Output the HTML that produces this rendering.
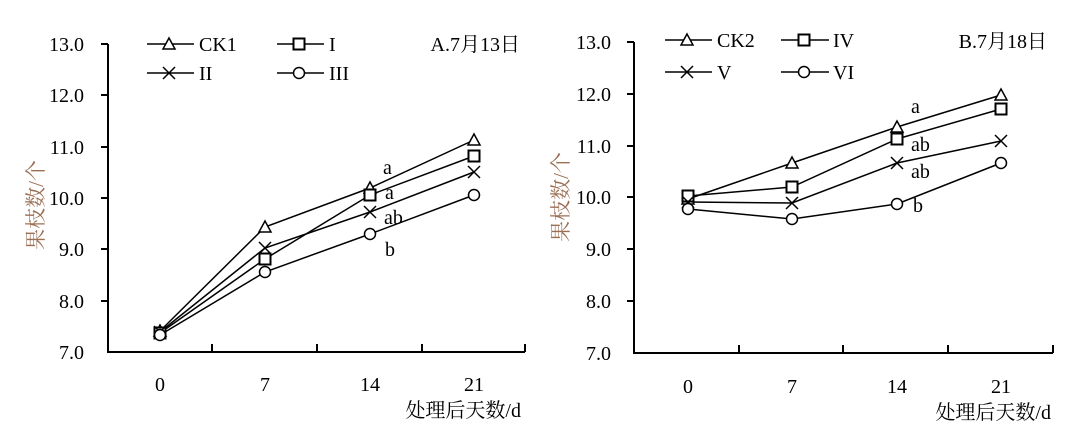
<!DOCTYPE html>
<html><head><meta charset="utf-8"><style>
html,body{margin:0;padding:0;background:#fff}
svg{display:block}
text{font-family:"Liberation Serif","Noto Serif CJK SC",serif;fill:#000}
.t{font-size:20px}
.cn{font-family:"Liberation Serif","Noto Serif CJK SC","Noto Sans CJK SC",serif}
</style></head><body>
<svg width="1090" height="430" viewBox="0 0 1090 430" xmlns="http://www.w3.org/2000/svg">
<defs>
<g id="tri"><path d="M0,-6 L6,5 L-6,5 Z" fill="#fff" stroke="#000" stroke-width="1.5"/></g>
<g id="sq"><rect x="-5.5" y="-5.5" width="11" height="11" fill="#fff" stroke="#000" stroke-width="2"/></g>
<g id="x"><path d="M-6,-6 L6,6 M-6,6 L6,-6" stroke="#000" stroke-width="1.5"/></g>
<g id="ci"><circle r="5.5" fill="#fff" stroke="#000" stroke-width="1.5"/></g>
</defs>

<!-- LEFT CHART -->
<g>
<path d="M108,44 V352 H525" fill="none" stroke="#000" stroke-width="2"/>
<g stroke="#000" stroke-width="2">
<line x1="101" y1="44" x2="108" y2="44"/><line x1="101" y1="95" x2="108" y2="95"/><line x1="101" y1="147" x2="108" y2="147"/><line x1="101" y1="198" x2="108" y2="198"/><line x1="101" y1="249" x2="108" y2="249"/><line x1="101" y1="301" x2="108" y2="301"/>
<line x1="212" y1="344" x2="212" y2="352"/><line x1="317" y1="344" x2="317" y2="352"/><line x1="422" y1="344" x2="422" y2="352"/><line x1="525" y1="344" x2="525" y2="352"/>
</g>
<g class="t" text-anchor="end">
<text x="84" y="51">13.0</text><text x="84" y="102">12.0</text><text x="84" y="154">11.0</text><text x="84" y="205">10.0</text><text x="84" y="256">9.0</text><text x="84" y="308">8.0</text><text x="84" y="359">7.0</text>
</g>
<g class="t" text-anchor="middle">
<text x="160" y="391">0</text><text x="265" y="391">7</text><text x="370" y="391">14</text><text x="474" y="391">21</text>
</g>
<text class="t cn" x="521" y="417" text-anchor="end">处理后天数/d</text>
<text class="cn" transform="translate(43,205) rotate(-90)" text-anchor="middle" style="fill:#9a6f55;font-size:21px">果枝数/个</text>
<text class="t cn" x="520" y="51" text-anchor="end">A.7月13日</text>
<g fill="none" stroke="#000" stroke-width="1.5">
<polyline points="160,331 265,227 370,188 474,140"/>
<polyline points="160,333 265,259 370,195 474,156"/>
<polyline points="160,332 265,248 370,212 474,172"/>
<polyline points="160,335 265,272 370,234 474,195"/>
<line x1="147" y1="44" x2="194" y2="44"/><line x1="277" y1="44" x2="324" y2="44"/>
<line x1="147" y1="73" x2="194" y2="73"/><line x1="277" y1="73" x2="324" y2="73"/>
</g>
<use href="#tri" x="160" y="331"/><use href="#tri" x="265" y="227"/><use href="#tri" x="370" y="188"/><use href="#tri" x="474" y="140"/>
<use href="#sq" x="160" y="333"/><use href="#sq" x="265" y="259"/><use href="#sq" x="370" y="195"/><use href="#sq" x="474" y="156"/>
<use href="#x" x="160" y="332"/><use href="#x" x="265" y="248"/><use href="#x" x="370" y="212"/><use href="#x" x="474" y="172"/>
<use href="#ci" x="160" y="335"/><use href="#ci" x="265" y="272"/><use href="#ci" x="370" y="234"/><use href="#ci" x="474" y="195"/>
<use href="#tri" x="169" y="44"/><use href="#sq" x="299" y="44"/><use href="#x" x="169" y="73"/><use href="#ci" x="299" y="73"/>
<g class="t"><text x="199" y="51">CK1</text><text x="329" y="51">I</text><text x="199" y="80">II</text><text x="329" y="80">III</text>
<text x="383" y="174">a</text><text x="385" y="199">a</text><text x="384" y="224">ab</text><text x="385" y="256">b</text></g>
</g>

<!-- RIGHT CHART -->
<g>
<path d="M634,42 V353 H1053" fill="none" stroke="#000" stroke-width="2"/>
<g stroke="#000" stroke-width="2">
<line x1="627" y1="42" x2="634" y2="42"/><line x1="627" y1="94" x2="634" y2="94"/><line x1="627" y1="146" x2="634" y2="146"/><line x1="627" y1="197" x2="634" y2="197"/><line x1="627" y1="249" x2="634" y2="249"/><line x1="627" y1="301" x2="634" y2="301"/>
<line x1="739" y1="345" x2="739" y2="353"/><line x1="843" y1="345" x2="843" y2="353"/><line x1="948" y1="345" x2="948" y2="353"/><line x1="1053" y1="345" x2="1053" y2="353"/>
</g>
<g class="t" text-anchor="end">
<text x="611" y="49">13.0</text><text x="611" y="101">12.0</text><text x="611" y="153">11.0</text><text x="611" y="204">10.0</text><text x="611" y="256">9.0</text><text x="611" y="308">8.0</text><text x="611" y="360">7.0</text>
</g>
<g class="t" text-anchor="middle">
<text x="688" y="393">0</text><text x="792" y="393">7</text><text x="897" y="393">14</text><text x="1001" y="393">21</text>
</g>
<text class="t cn" x="1051" y="419" text-anchor="end">处理后天数/d</text>
<text class="cn" transform="translate(568,197) rotate(-90)" text-anchor="middle" style="fill:#9a6f55;font-size:21px">果枝数/个</text>
<text class="t cn" x="1047" y="48" text-anchor="end">B.7月18日</text>
<g fill="none" stroke="#000" stroke-width="1.5">
<polyline points="688,199 792,163 897,127 1001,95"/>
<polyline points="688,196 792,187 897,139 1001,109"/>
<polyline points="688,202 792,203 897,163 1001,141"/>
<polyline points="688,209 792,219 897,204 1001,163"/>
<line x1="665" y1="40" x2="712" y2="40"/><line x1="781" y1="40" x2="829" y2="40"/>
<line x1="665" y1="72" x2="712" y2="72"/><line x1="781" y1="72" x2="829" y2="72"/>
</g>
<use href="#tri" x="688" y="199"/><use href="#tri" x="792" y="163"/><use href="#tri" x="897" y="127"/><use href="#tri" x="1001" y="95"/>
<use href="#sq" x="688" y="196"/><use href="#sq" x="792" y="187"/><use href="#sq" x="897" y="139"/><use href="#sq" x="1001" y="109"/>
<use href="#x" x="688" y="202"/><use href="#x" x="792" y="203"/><use href="#x" x="897" y="163"/><use href="#x" x="1001" y="141"/>
<use href="#ci" x="688" y="209"/><use href="#ci" x="792" y="219"/><use href="#ci" x="897" y="204"/><use href="#ci" x="1001" y="163"/>
<use href="#tri" x="687" y="40"/><use href="#sq" x="804" y="40"/><use href="#x" x="687" y="72"/><use href="#ci" x="804" y="72"/>
<g class="t"><text x="717" y="47">CK2</text><text x="833" y="47">IV</text><text x="717" y="79">V</text><text x="833" y="79">VI</text>
<text x="911" y="113">a</text><text x="911" y="151">ab</text><text x="911" y="178">ab</text><text x="913" y="212">b</text></g>
</g>
</svg>
</body></html>
